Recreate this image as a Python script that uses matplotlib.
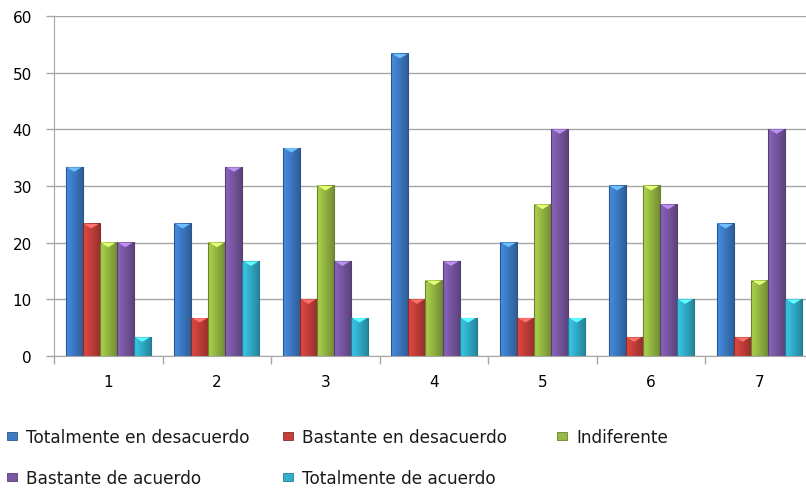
import numpy as np
import matplotlib.pyplot as plt
from matplotlib.colors import to_rgb
from matplotlib.patches import Rectangle, Polygon

# Survey results (% of respondents) for items 1..7
items = [1, 2, 3, 4, 5, 6, 7]
tot_desacuerdo = [33.3, 23.3, 36.7, 53.3, 20.0, 30.0, 23.3]
bas_desacuerdo = [23.3, 6.7, 10.0, 10.0, 6.7, 3.3, 3.3]
indiferente = [20.0, 20.0, 30.0, 13.3, 26.7, 30.0, 13.3]
bas_acuerdo = [20.0, 33.3, 16.7, 16.7, 40.0, 26.7, 40.0]
tot_acuerdo = [3.3, 16.7, 6.7, 6.7, 6.7, 10.0, 10.0]

labels = ["Totalmente en desacuerdo", "Bastante en desacuerdo", "Indiferente",
          "Bastante de acuerdo", "Totalmente de acuerdo"]
series = [tot_desacuerdo, bas_desacuerdo, indiferente, bas_acuerdo, tot_acuerdo]
colors = ["#3D7BC6", "#C73F3A", "#97B943", "#7A58A4", "#32B0CD"]

W, H = 806, 489
fig = plt.figure(figsize=(W / 100, H / 100), dpi=100)
ax = fig.add_axes([54 / W, 1 - 357 / H, 760 / W, 340 / H])

bw = 0.157
grid_c = "#A6A6A6"


def shade(base, n=24):
    # horizontal light->dark ramp used to fake the rounded bar look
    b = np.array(to_rgb(base))
    t = np.linspace(0, 1, n)
    f = 1.15 - 0.40 * t
    rows = np.clip(b[None, :] * f[:, None], 0, 1)
    return rows[None, :, :]


for i, (vals, c) in enumerate(zip(series, colors)):
    img = shade(c)
    b = np.array(to_rgb(c))
    dark = b * 0.7
    light = np.clip(b * 1.3 + 0.12, 0, 1)
    for x, v in zip(items, vals):
        x0 = x + (i - 2.5) * bw
        x1 = x0 + bw
        ax.imshow(img, extent=[x0, x1, 0, v], aspect="auto", zorder=3,
                  interpolation="bilinear")
        ax.add_patch(Rectangle((x0, 0), bw, v, fill=False, ec=dark, lw=0.8, zorder=4))
        d = min(0.8, v * 0.5)
        ax.add_patch(Polygon([(x0 + bw * 0.06, v), (x1 - bw * 0.06, v),
                              (x0 + bw / 2, v - d)], closed=True,
                             fc=light, ec="none", zorder=4))

ax.set_xlim(0.5, 7.5)
ax.set_ylim(0, 60)
ax.set_yticks(range(0, 61, 10))
ax.set_xticks(items)
ax.set_xticks(np.arange(0.5, 7.6, 1), minor=True)
ax.tick_params(axis="x", which="major", length=0, pad=13, labelsize=11)
ax.tick_params(axis="x", which="minor", length=6, color=grid_c, width=1)
ax.tick_params(axis="y", length=6, color=grid_c, width=1, labelsize=11, pad=10)
ax.yaxis.grid(True, color=grid_c, lw=1)
ax.set_axisbelow(True)
for s in ["top", "right"]:
    ax.spines[s].set_visible(False)
for s in ["left", "bottom"]:
    ax.spines[s].set_color(grid_c)
ax.spines["bottom"].set_zorder(5)

# legend laid out in fixed columns
legend_pos = [(7, 437), (283, 437), (557, 437), (7, 478), (283, 478)]
for (px, py), lab, c in zip(legend_pos, labels, colors):
    fig.patches.append(Rectangle((px / W, 1 - (py + 4) / H), 10 / W, 8 / H,
                                 transform=fig.transFigure, fc=c,
                                 ec=np.array(to_rgb(c)) * 0.7, lw=0.6))
    fig.text((px + 19) / W, 1 - (py + 1) / H, lab, fontsize=12.2,
             family="DejaVu Sans", va="center", ha="left", color="#1A1A1A")

fig.savefig("out.png", dpi=100)
